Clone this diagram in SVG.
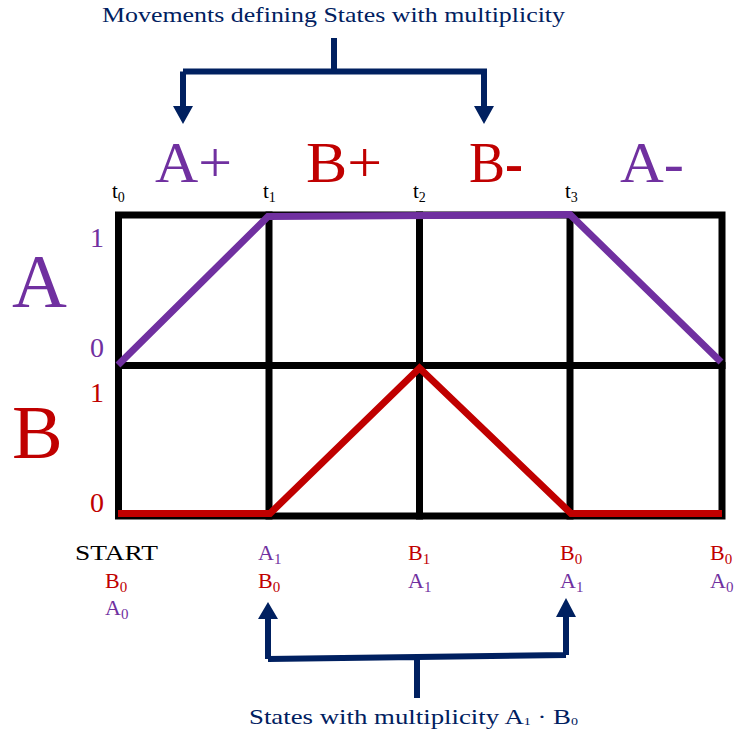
<svg xmlns="http://www.w3.org/2000/svg" width="738" height="734" viewBox="0 0 738 734">
<style>
.pu{fill:#7030A0}
.rd{fill:#C00000}
.nv{fill:#002060}
.bk{fill:#000}
.grid{fill:none;stroke:#000;stroke-width:7;stroke-linecap:square}
.sig{fill:none;stroke-width:7;stroke-linejoin:miter;stroke-linecap:butt}
.br{fill:none;stroke:#002060;stroke-width:6}
</style>

<g id="grid">
<rect class="grid" x="118.5" y="215" width="603.5" height="301"/>
<line class="grid" x1="118.5" y1="365.5" x2="722" y2="365.5"/>
<line class="grid" x1="269" y1="215" x2="269" y2="516"/>
<line class="grid" x1="419.5" y1="215" x2="419.5" y2="516"/>
<line class="grid" x1="570" y1="215" x2="570" y2="516"/>
</g>

<g id="signalA">
<polyline class="sig" stroke="#7030A0" points="118,365 268,216.5 570,214.5 721,362"/>
</g>
<g id="signalB">
<polyline class="sig" stroke="#C00000" points="118,513.5 270,513.5 419.5,368 571,513.5 722,513.5"/>
</g>

<g id="connectors">
<path class="br" d="M334,38 V71.5 M183,71.5 H487 M183,71.5 V107 M484,71.5 V107"/>
<path d="M173,106 L193,106 L183,124 Z M474,106 L494,106 L484,124 Z" fill="#002060"/>
<path class="br" d="M417,698 V657 M268,659 L566,655 M268,659 V618 M566,655 V616"/>
<path d="M258,619 L278,619 L268,602 Z M556,617 L576,617 L566,598 Z" fill="#002060"/>
</g>

<g id="title">
<text class="nv" x="102" y="22" font-family="Liberation Serif" font-size="21" textLength="463" lengthAdjust="spacingAndGlyphs">Movements defining States with multiplicity</text>
</g>

<g id="movements" font-family="Liberation Serif" font-size="56">
<text class="pu" x="155" y="182" textLength="77" lengthAdjust="spacingAndGlyphs">A+</text>
<text class="rd" x="306" y="182" textLength="76" lengthAdjust="spacingAndGlyphs">B+</text>
<text class="rd" x="469" y="182" textLength="54" lengthAdjust="spacingAndGlyphs">B<tspan font-weight="bold">-</tspan></text>
<text class="pu" x="620" y="182" textLength="64" lengthAdjust="spacingAndGlyphs">A-</text>
</g>

<g id="times" font-family="Liberation Serif" font-size="21">
<text class="bk" x="112" y="198">t<tspan font-size="14" dy="4">0</tspan></text>
<text class="bk" x="263" y="198">t<tspan font-size="14" dy="4">1</tspan></text>
<text class="bk" x="413" y="198">t<tspan font-size="14" dy="4">2</tspan></text>
<text class="bk" x="565" y="198">t<tspan font-size="14" dy="4">3</tspan></text>
</g>

<g id="axisA" font-family="Liberation Serif">
<text class="pu" x="12" y="307" font-size="76">A</text>
<text class="pu" x="97" y="247" font-size="28" text-anchor="middle">1</text>
<text class="pu" x="97" y="357" font-size="28" text-anchor="middle">0</text>
</g>
<g id="axisB" font-family="Liberation Serif">
<text class="rd" x="12" y="458" font-size="76">B</text>
<text class="rd" x="97" y="402" font-size="28" text-anchor="middle">1</text>
<text class="rd" x="97" y="512" font-size="28" text-anchor="middle">0</text>
</g>

<g id="state0" font-family="Liberation Serif" font-size="22">
<text class="bk" x="75" y="560" textLength="83" lengthAdjust="spacingAndGlyphs">START</text>
<text class="rd" x="105" y="588">B<tspan font-size="15" dy="4">0</tspan></text>
<text class="pu" x="105" y="615">A<tspan font-size="15" dy="4">0</tspan></text>
</g>
<g id="state1" font-family="Liberation Serif" font-size="22">
<text class="pu" x="258" y="560">A<tspan font-size="15" dy="4">1</tspan></text>
<text class="rd" x="258" y="588">B<tspan font-size="15" dy="4">0</tspan></text>
</g>
<g id="state2" font-family="Liberation Serif" font-size="22">
<text class="rd" x="408" y="560">B<tspan font-size="15" dy="4">1</tspan></text>
<text class="pu" x="408" y="588">A<tspan font-size="15" dy="4">1</tspan></text>
</g>
<g id="state3" font-family="Liberation Serif" font-size="22">
<text class="rd" x="560" y="560">B<tspan font-size="15" dy="4">0</tspan></text>
<text class="pu" x="560" y="588">A<tspan font-size="15" dy="4">1</tspan></text>
</g>
<g id="state4" font-family="Liberation Serif" font-size="22">
<text class="rd" x="710" y="560">B<tspan font-size="15" dy="4">0</tspan></text>
<text class="pu" x="710" y="588">A<tspan font-size="15" dy="4">0</tspan></text>
</g>

<g id="caption">
<text class="nv" x="249" y="724" font-family="Liberation Serif" font-size="21" textLength="329" lengthAdjust="spacingAndGlyphs">States with multiplicity A<tspan font-size="11" dy="1">1</tspan><tspan dy="-1"> · B</tspan><tspan font-size="11" dy="1">0</tspan></text>
</g>
</svg>
